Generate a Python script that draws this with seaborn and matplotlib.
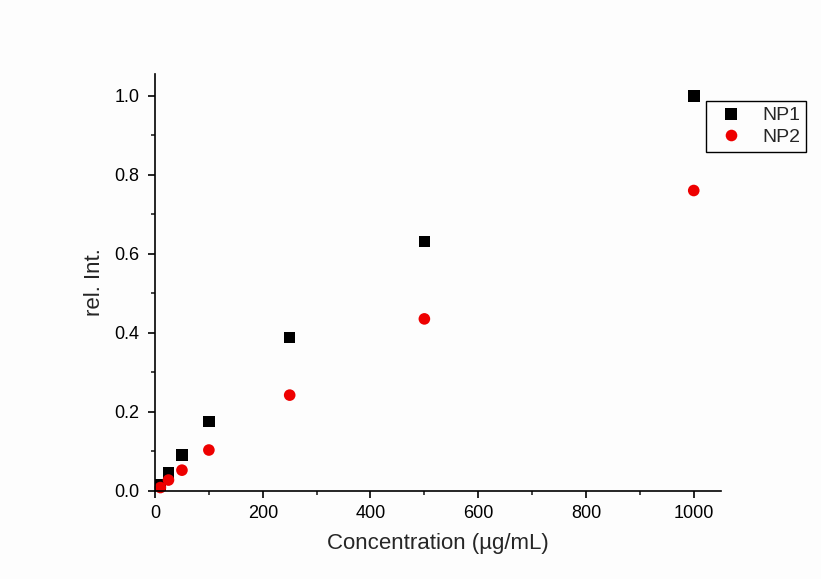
import matplotlib
matplotlib.use("Agg")
import matplotlib.pyplot as plt
import seaborn as sns
import pandas as pd
from matplotlib.ticker import MultipleLocator

conc = [10, 25, 50, 100, 250, 500, 1000]
np1 = [0.014, 0.045, 0.090, 0.175, 0.388, 0.631, 1.000]
np2 = [0.008, 0.027, 0.052, 0.103, 0.242, 0.435, 0.760]
series_names = ["NP1", "NP2"]

df = pd.concat([
    pd.DataFrame({"Concentration": conc, "rel": np1, "series": series_names[0]}),
    pd.DataFrame({"Concentration": conc, "rel": np2, "series": series_names[1]}),
])

sns.set_theme(style="ticks")
plt.rcParams['font.family'] = ['Liberation Sans', 'DejaVu Sans']

fig = plt.figure(figsize=(8.21, 5.79), dpi=100, facecolor="#fdfdfd")
ax = fig.add_axes([0.1888, 0.1525, 0.689, 0.7197])
ax.set_facecolor("#fdfdfd")

sns.scatterplot(data=df, x="Concentration", y="rel", hue="series", style="series",
                palette={"NP1": "black", "NP2": "#ee0000"},
                markers={"NP1": "s", "NP2": "o"},
                s=70, linewidth=0, ax=ax, clip_on=False, legend=True)

ax.set_xlim(0, 1050)
ax.set_ylim(0, 1.055)
ax.xaxis.set_major_locator(MultipleLocator(200))
ax.xaxis.set_minor_locator(MultipleLocator(100))
ax.yaxis.set_major_locator(MultipleLocator(0.2))
ax.yaxis.set_minor_locator(MultipleLocator(0.1))
ax.yaxis.set_major_formatter(matplotlib.ticker.FormatStrFormatter('%.1f'))

for side in ["top", "right"]:
    ax.spines[side].set_visible(False)
for side in ["left", "bottom"]:
    ax.spines[side].set_linewidth(1.2)
    ax.spines[side].set_color("black")

ax.tick_params(which="major", direction="out", length=5, width=1.2, labelsize=13, colors="black")
ax.tick_params(axis="x", which="major", pad=5)
ax.tick_params(axis="y", which="major", pad=6)
ax.tick_params(which="minor", direction="out", length=3, width=1.2)

ax.set_xlabel("Concentration (µg/mL)", fontsize=16, labelpad=8)
ax.set_ylabel("rel. Int.", fontsize=16, labelpad=7)

handles, labels = ax.get_legend_handles_labels()
leg = ax.legend(handles, labels, loc="upper left",
                bbox_to_anchor=(705.7/821, 1-101/579), bbox_transform=fig.transFigure,
                fontsize=14, frameon=True, fancybox=False, edgecolor="black",
                framealpha=1, borderpad=0.3, handletextpad=0.6, labelspacing=0.2,
                borderaxespad=0, markerscale=1.0, handlelength=2.0)
leg.get_frame().set_linewidth(1.0)
leg.get_frame().set_facecolor("#fdfdfd")

fig.savefig("out.png", dpi=100, facecolor=fig.get_facecolor())
